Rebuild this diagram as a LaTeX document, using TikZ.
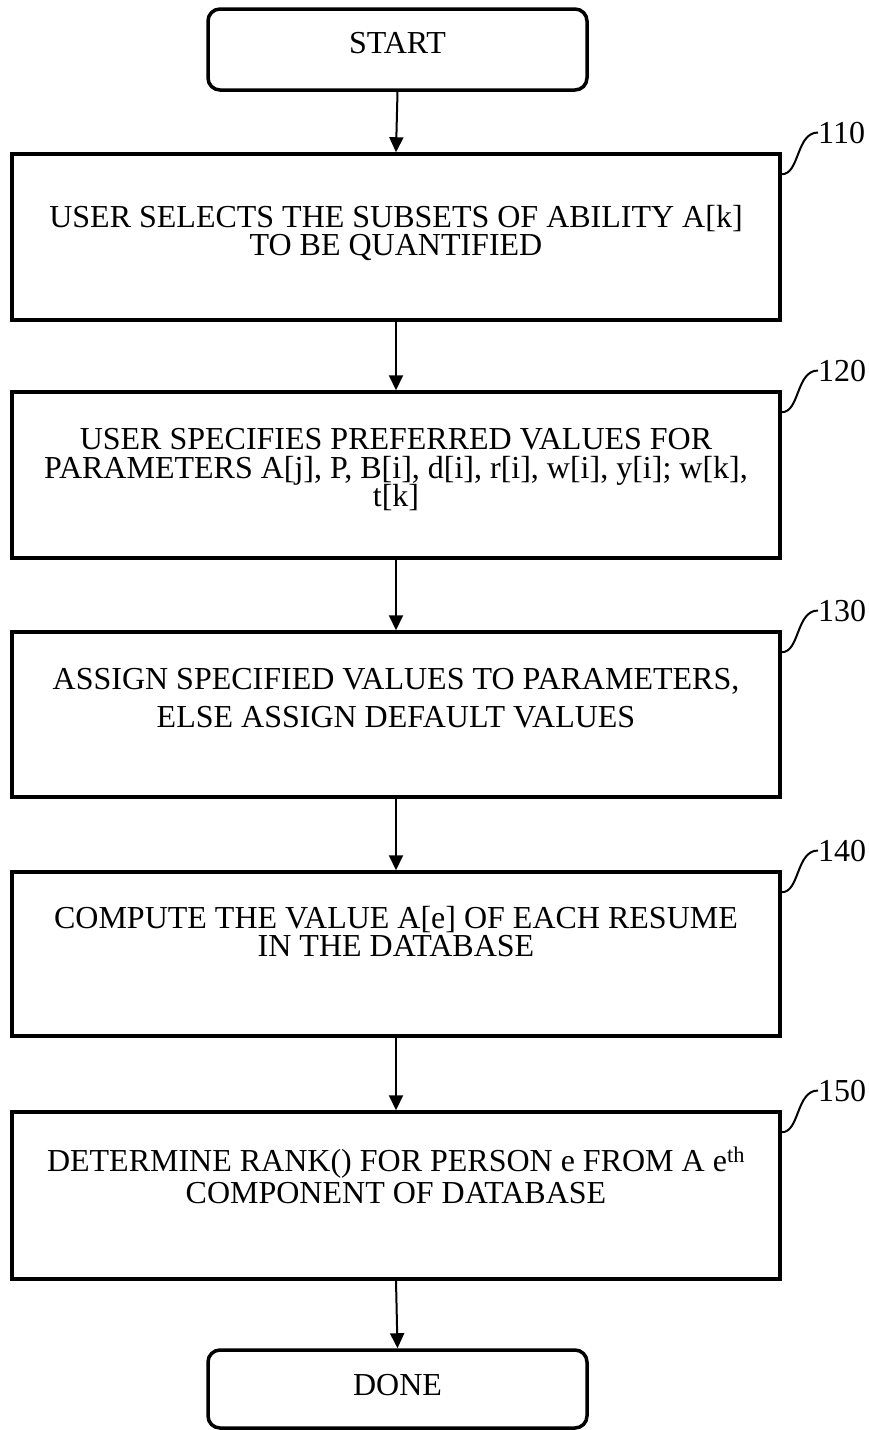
\documentclass[tikz,border=0pt]{standalone}
\usepackage{fontspec}
\setmainfont{Liberation Serif}
\usetikzlibrary{arrows.meta}
\begin{document}
\begin{tikzpicture}[x=1pt,y=-1pt,
  box/.style={draw, line width=3.5pt, minimum width=768pt, inner sep=0pt},
  term/.style={draw, line width=3.5pt, rounded corners=12pt, minimum width=379pt, inner sep=0pt},
  txt/.style={align=center, inner sep=0pt, anchor=north},
  arr/.style={line width=2pt, -{Triangle[length=15pt,width=14pt]}},
  num/.style={inner sep=0pt, anchor=base west, font=\fontsize{32}{36}\selectfont},
  curl/.style={line width=2pt},
  every node/.style={font=\fontsize{32}{36}\selectfont}
]
\useasboundingbox (0,0) rectangle (869,1430);

% terminals
\node[term, minimum height=81pt] (start) at (397.5,49.5) {};
\node[inner sep=0pt, anchor=base] (startT) at (397.5,53) {START};
\node[term, minimum height=78pt] (done) at (397.5,1389) {};
\node[inner sep=0pt, anchor=base] (doneT) at (397.5,1395) {DONE};

% process boxes
\node[box, minimum height=166pt] (b110) at (396,237) {};
\node[box, minimum height=166pt] (b120) at (396,475) {};
\node[box, minimum height=165pt] (b130) at (396,714.5) {};
\node[box, minimum height=164pt] (b140) at (396,954) {};
\node[box, minimum height=167pt] (b150) at (396,1195.5) {};

% texts
\node[txt, font={\fontsize{32}{28}\selectfont\lineskiplimit=-50pt}] (t110) at (396,205) {USER SELECTS THE SUBSETS OF ABILITY A[k]\\TO BE QUANTIFIED};
\node[txt, font={\fontsize{32}{28.5}\selectfont\lineskiplimit=-50pt}] (t120) at (396,428.5) {USER SPECIFIES PREFERRED VALUES FOR\\PARAMETERS A[j], P, B[i], d[i], r[i], w[i], y[i]; w[k],\\t[k]};
\node[txt, font={\fontsize{32}{38}\selectfont\lineskiplimit=-50pt}] (t130) at (396,668.5) {ASSIGN SPECIFIED VALUES TO PARAMETERS,\\ELSE ASSIGN DEFAULT VALUES};
\node[txt, font={\fontsize{32}{28.5}\selectfont\lineskiplimit=-50pt}] (t140) at (396,906) {COMPUTE THE VALUE A[e] OF EACH RESUME\\IN THE DATABASE};
\node[txt, font={\fontsize{32}{32}\selectfont\lineskiplimit=-50pt}] (t150) at (396,1147) {DETERMINE RANK() FOR PERSON e FROM A e\textsuperscript{th}\\COMPONENT OF DATABASE};

% reference numerals
\node[num] (l110) at (818,143) {110};
\node[num] (l120) at (818,381) {120};
\node[num] (l130) at (818,621) {130};
\node[num] (l140) at (818,861) {140};
\node[num] (l150) at (818,1101) {150};

% arrows
\draw[arr] (start.south) -- (b110.north);
\draw[arr] (b110.south) -- (b120.north);
\draw[arr] (b120.south) -- (b130.north);
\draw[arr] (b130.south) -- (b140.north);
\draw[arr] (b140.south) -- (b150.north);
\draw[arr] (b150.south) -- (done.north);

% leader curls
\draw[curl] ([yshift=-22pt]b110.north east) .. controls +(18,0) and +(-22,0) .. (l110.west);
\draw[curl] ([yshift=-22pt]b120.north east) .. controls +(18,0) and +(-22,0) .. (l120.west);
\draw[curl] ([yshift=-22pt]b130.north east) .. controls +(18,0) and +(-22,0) .. (l130.west);
\draw[curl] ([yshift=-22pt]b140.north east) .. controls +(18,0) and +(-22,0) .. (l140.west);
\draw[curl] ([yshift=-22pt]b150.north east) .. controls +(18,0) and +(-22,0) .. (l150.west);
\end{tikzpicture}
\end{document}
